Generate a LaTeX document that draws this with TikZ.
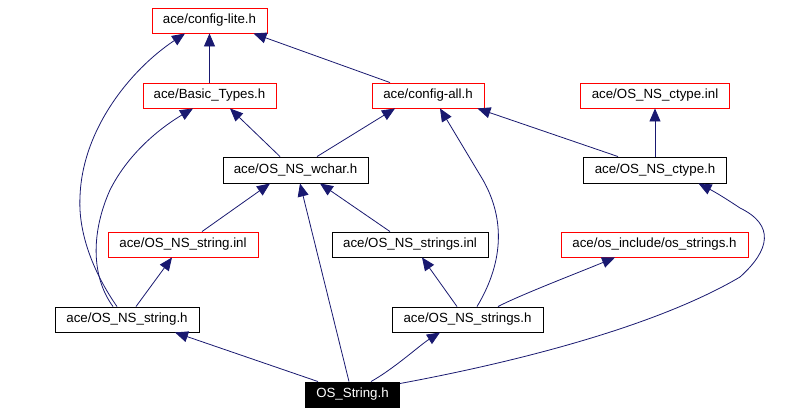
\documentclass[tikz,border=0pt]{standalone}
\usepackage{fontspec}
\setmainfont{Liberation Sans}
\usetikzlibrary{arrows.meta}
\definecolor{edgeblue}{RGB}{25,25,112}
\definecolor{boxred}{RGB}{255,0,0}
\begin{document}
\begin{tikzpicture}[x=1pt,y=-1pt,
  box/.style={draw=black,line width=0.9pt,minimum height=25pt,inner sep=0pt,font=\fontsize{13.3}{15}\selectfont,fill=white},
  redbox/.style={box,draw=boxred},
  mainbox/.style={box,fill=black,text=white},
  edge/.style={draw=edgeblue,line width=0.8pt,-{Triangle[length=13pt,width=11pt]},fill=none},
]
\useasboundingbox (0,0) rectangle (805,413);
\node[redbox,minimum width=115pt] (lite) at (209.5,20.5) {ace/config-lite.h};
\node[redbox,minimum width=133pt] (basic) at (209.5,95.5) {ace/Basic\_Types.h};
\node[redbox,minimum width=112pt] (all) at (428,95.5) {ace/config-all.h};
\node[redbox,minimum width=149pt] (ctinl) at (655,95.5) {ace/OS\_NS\_ctype.inl};
\node[box,minimum width=145pt,minimum height=26pt] (wchar) at (295.5,170) {ace/OS\_NS\_wchar.h};
\node[box,minimum width=143pt,minimum height=26pt] (ctype) at (655,170) {ace/OS\_NS\_ctype.h};
\node[redbox,minimum width=150pt] (strinl) at (183,244.5) {ace/OS\_NS\_string.inl};
\node[box,minimum width=156pt] (strsinl) at (410,244.5) {ace/OS\_NS\_strings.inl};
\node[redbox,minimum width=187pt] (osstr) at (654.5,244.5) {ace/os\_include/os\_strings.h};
\node[box,minimum width=144pt] (strh) at (127,319.5) {ace/OS\_NS\_string.h};
\node[box,minimum width=151pt] (strsh) at (467.5,319.5) {ace/OS\_NS\_strings.h};
\node[mainbox,minimum width=94pt] (main) at (352.5,394.5) {OS\_String.h};

\draw[edge] (basic.north) -- (lite.south);
\draw[edge] ([xshift=-38pt]all.north) -- ([xshift=44pt]lite.south);
\draw[edge] ([xshift=-10pt]strh.north) .. controls (95,275) and (78,235) .. (80,197)
   .. controls (82,130) and (130,70) .. ([xshift=-24.5pt]lite.south);
\draw[edge] ([xshift=-14pt]strh.north) .. controls (90,275) and (92,230) .. (110,190)
   .. controls (130,150) and (165,125) .. ([xshift=-16.5pt]basic.south);
\draw[edge] ([xshift=-15.5pt]wchar.north) -- ([xshift=20.5pt]basic.south);
\draw[edge] ([xshift=21.5pt]wchar.north) -- ([xshift=-33pt]all.south);
\draw[edge] ([xshift=-37pt]ctype.north) -- ([xshift=-7pt]all.south east);
\draw[edge] (ctype.north) -- (ctinl.south);
\draw[edge] ([xshift=19pt]strinl.north) -- ([xshift=-25.5pt]wchar.south);
\draw[edge] ([xshift=-20pt]strsinl.north) -- ([xshift=24.5pt]wchar.south);
\draw[edge] ([xshift=-3.5pt]main.north) -- ([xshift=4.5pt]wchar.south);
\draw[edge] ([xshift=9pt]strh.north) -- ([xshift=-11pt]strinl.south);
\draw[edge] ([xshift=-10.5pt]strsh.north) -- ([xshift=12pt]strsinl.south);
\draw[edge] ([xshift=9.5pt]strsh.north) .. controls (505,260) and (505,215) .. (480,175)
   .. controls (465,150) and (450,125) .. ([xshift=12pt]all.south);
\draw[edge] ([xshift=30.5pt]strsh.north) .. controls (520,295) and (580,272) .. ([xshift=-39.5pt]osstr.south);
\draw[edge] ([xshift=-34.5pt]main.north) -- ([xshift=48pt]strh.south);
\draw[edge] ([xshift=18.5pt]main.north) .. controls (395,368) and (420,345) .. ([xshift=-27.5pt]strsh.south);
\draw[edge] ([yshift=11pt]main.east) .. controls (500,365) and (650,330) .. (740,277)
   .. controls (770,250) and (775,225) .. (740,208)
   .. controls (725,198) and (715,192) .. ([xshift=43.5pt]ctype.south);
\end{tikzpicture}
\end{document}
